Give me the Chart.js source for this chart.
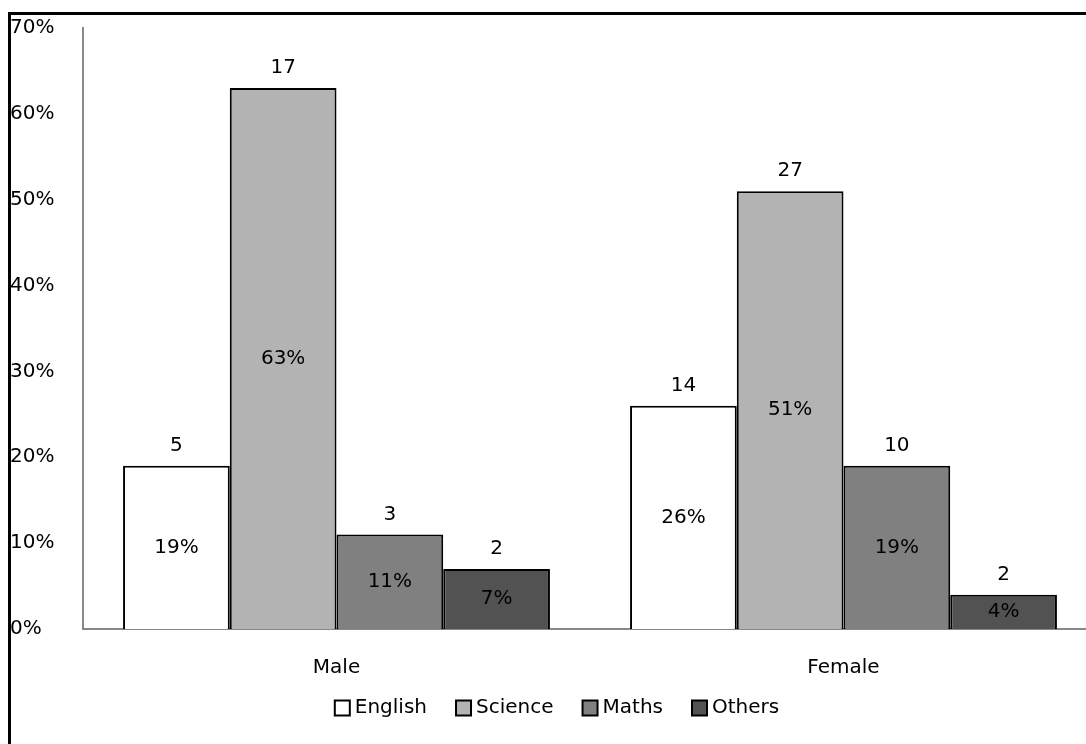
<!DOCTYPE html>
<html>
<head>
<meta charset="utf-8">
<script src="https://cdn.jsdelivr.net/npm/chart.js@4/dist/chart.umd.min.js"></script>
<style>
  html, body { margin: 0; padding: 0; background: #fff; overflow: hidden; }
  #wrap { position: relative; width: 1086px; height: 744px; overflow: hidden; }
  #frame { position: absolute; left: 8px; top: 12px; width: 1200px; height: 800px;
           border-left: 3px solid #000; border-top: 3px solid #000; }
  #box { position: absolute; left: 0; top: 0; width: 1140px; height: 744px; }
</style>
</head>
<body>
<div id="wrap">
  <div id="frame"></div>
  <div id="box"><canvas id="chart"></canvas></div>
</div>
<script>
// Daten
var categories = ['Male', 'Female'];
var subjects = ['English', 'Science', 'Maths', 'Others'];
var englishPct = [0.19, 0.26];
var sciencePct = [0.63, 0.51];
var mathsPct = [0.11, 0.19];
var othersPct = [0.07, 0.04];
var englishCount = [5, 14];
var scienceCount = [17, 27];
var mathsCount = [3, 10];
var othersCount = [2, 2];
var yTicks = ['0%', '10%', '20%', '30%', '40%', '50%', '60%', '70%'];

var colors = ['#ffffff', '#b3b3b3', '#808080', '#525252'];
var pcts = [englishPct, sciencePct, mathsPct, othersPct];
var counts = [englishCount, scienceCount, mathsCount, othersCount];

var fontFamily = '"DejaVu Sans", Verdana, sans-serif';

// Beschriftungen auf den Balken
var barLabels = {
  id: 'barLabels',
  afterDatasetsDraw: function(chart) {
    var ctx = chart.ctx;
    ctx.save();
    ctx.font = '20px ' + fontFamily;
    ctx.fillStyle = '#000';
    ctx.textAlign = 'center';
    ctx.textBaseline = 'middle';
    chart.data.datasets.forEach(function(ds, i) {
      var meta = chart.getDatasetMeta(i);
      meta.data.forEach(function(bar, j) {
        ctx.fillText(String(counts[i][j]), bar.x, bar.y - 20);
        ctx.fillText(Math.round(ds.data[j] * 100) + '%', bar.x, (bar.y + bar.base) / 2);
      });
    });
    ctx.restore();
  }
};

// Legende unten, eng gesetzt wie im Original
var tightLegend = {
  id: 'tightLegend',
  afterDraw: function(chart) {
    var ctx = chart.ctx;
    var box = 15, gap = 5, itemGap = 29, y = 708;
    ctx.save();
    ctx.font = '20px ' + fontFamily;
    ctx.textBaseline = 'middle';
    ctx.textAlign = 'left';
    var total = 0;
    chart.data.datasets.forEach(function(ds, i) {
      total += box + gap + ctx.measureText(ds.label).width + (i > 0 ? itemGap : 0);
    });
    var x = 557 - total / 2;
    chart.data.datasets.forEach(function(ds) {
      ctx.fillStyle = ds.backgroundColor;
      ctx.fillRect(x, y - box / 2, box, box);
      ctx.strokeStyle = '#000';
      ctx.lineWidth = 2;
      ctx.strokeRect(x, y - box / 2, box, box);
      x += box + gap;
      ctx.fillStyle = '#000';
      ctx.fillText(ds.label, x, y);
      x += ctx.measureText(ds.label).width + itemGap;
    });
    ctx.restore();
  }
};

var ctx = document.getElementById('chart').getContext('2d');
var chart = new Chart(ctx, {
  type: 'bar',
  data: {
    labels: categories,
    datasets: subjects.map(function(name, i) {
      return {
        label: name,
        data: pcts[i],
        backgroundColor: colors[i],
        borderColor: '#000',
        borderWidth: 2,
        borderSkipped: 'bottom',
        categoryPercentage: 0.842,
        barPercentage: 1.0
      };
    })
  },
  options: {
    responsive: true,
    maintainAspectRatio: false,
    animation: false,
    layout: { padding: { left: 10, right: 43, top: 28, bottom: 37 } },
    plugins: {
      tooltip: { enabled: false },
      legend: { display: false }
    },
    scales: {
      x: {
        grid: { display: false, drawTicks: false },
        border: { display: true, color: '#888', width: 2 },
        ticks: { color: '#000', font: { family: fontFamily, size: 20 }, padding: 27 }
      },
      y: {
        min: 0,
        max: 0.7,
        grid: { display: false, drawTicks: false },
        border: { display: true, color: '#888', width: 2 },
        afterFit: function(scale) { scale.width = 73; },
        ticks: {
          stepSize: 0.1,
          crossAlign: 'far',
          padding: 8,
          color: '#000',
          font: { family: fontFamily, size: 20 },
          callback: function(v, idx) { return yTicks[idx]; }
        }
      }
    }
  },
  plugins: [barLabels, tightLegend]
});
</script>
</body>
</html>
